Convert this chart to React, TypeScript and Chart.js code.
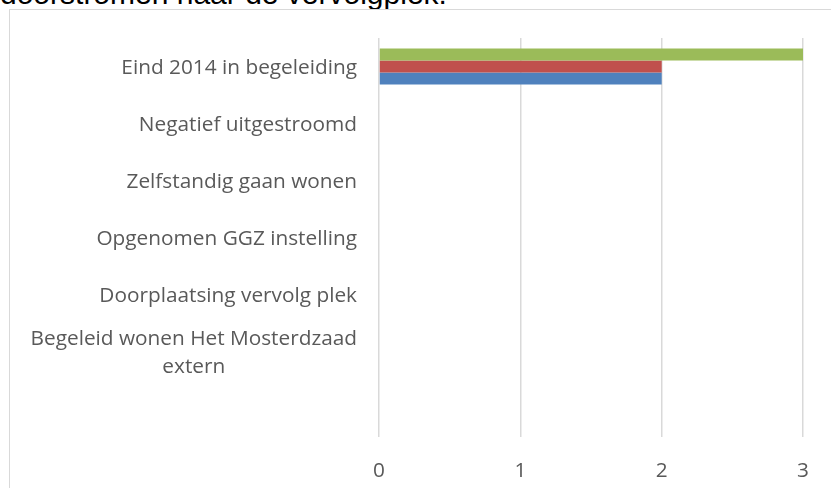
import { useEffect, useRef } from "react";
import { Chart, registerables } from "chart.js";

Chart.register(...registerables);

const categories: (string | string[])[] = [
  "Eind 2014 in begeleiding",
  "Negatief uitgestroomd",
  "Zelfstandig gaan wonen",
  "Opgenomen GGZ instelling",
  "Doorplaatsing vervolg plek",
  ["Begeleid wonen Het Mosterdzaad", "extern"],
  "",
];

const seriesNames = ["Reeks 3", "Reeks 2", "Reeks 1"];
const greenValues = [3, 0, 0, 0, 0, 0, 0];
const redValues = [2, 0, 0, 0, 0, 0, 0];
const blueValues = [2, 0, 0, 0, 0, 0, 0];
const xTicks = [0, 1, 2, 3];

const titleText = "doorstromen naar de vervolgplek.";

const FONT = '"Open Sans", sans-serif';
const FONT_SIZE = 20.8;
const LINE_H = 28;
const LABEL_COLOR = "#595959";

const yLabelPlugin = {
  id: "yLabelPlugin",
  afterDraw(chart: any) {
    const ctx = chart.ctx;
    const yScale = chart.scales.y;
    ctx.save();
    ctx.font = `${FONT_SIZE}px ${FONT}`;
    ctx.fillStyle = LABEL_COLOR;
    ctx.textBaseline = "middle";
    ctx.textAlign = "center";
    (chart.data.labels as (string | string[])[]).forEach((lab, i) => {
      const lines = Array.isArray(lab) ? lab : [lab];
      const cy = yScale.getPixelForTick(i) + 1.5;
      const maxW = Math.max(...lines.map((l) => ctx.measureText(l).width));
      const cx = chart.chartArea.left - 22 - maxW / 2;
      lines.forEach((l, j) => {
        ctx.fillText(l, cx, cy + (j - (lines.length - 1) / 2) * LINE_H);
      });
    });
    ctx.restore();
  },
};

export default function App() {
  const canvasRef = useRef<HTMLCanvasElement | null>(null);

  useEffect(() => {
    if (!canvasRef.current) return;
    const chart = new Chart(canvasRef.current, {
      type: "bar",
      data: {
        labels: categories,
        datasets: [
          { label: seriesNames[0], data: greenValues, backgroundColor: "#9BBB59" },
          { label: seriesNames[1], data: redValues, backgroundColor: "#C0504D" },
          { label: seriesNames[2], data: blueValues, backgroundColor: "#4F81BD" },
        ],
      },
      options: {
        indexAxis: "y",
        animation: false,
        responsive: false,
        maintainAspectRatio: false,
        layout: { padding: { top: 38, right: 20, bottom: 0, left: 0 } },
        datasets: {
          bar: { barPercentage: 1, categoryPercentage: 0.632, borderWidth: 0 },
        },
        plugins: {
          legend: { display: false },
          tooltip: { enabled: false },
          title: { display: false },
        },
        scales: {
          x: {
            type: "linear",
            min: xTicks[0],
            max: xTicks[xTicks.length - 1],
            afterBuildTicks: (scale: any) => {
              scale.ticks = xTicks.map((v) => ({ value: v }));
            },
            afterFit: (scale: any) => {
              scale.height = 51;
            },
            grid: { color: "#d9d9d9", lineWidth: 1.5, drawTicks: false },
            border: { display: false },
            ticks: {
              color: LABEL_COLOR,
              font: { family: FONT, size: FONT_SIZE },
              padding: 22,
              maxRotation: 0,
            },
          },
          y: {
            type: "category",
            afterFit: (scale: any) => {
              scale.width = 379;
            },
            grid: { display: false },
            border: { display: false },
            ticks: { display: false },
          },
        },
      },
      plugins: [yLabelPlugin],
    });
    return () => chart.destroy();
  }, []);

  return (
    <div
      style={{
        position: "fixed",
        left: 0,
        top: 0,
        width: 831,
        height: 488,
        overflow: "hidden",
        background: "#ffffff",
      }}
    >
      <div
        style={{
          position: "absolute",
          left: 0,
          top: -21,
          fontFamily: '"Liberation Sans", Arial, sans-serif',
          fontSize: 30,
          lineHeight: 1,
          color: "#000000",
          whiteSpace: "nowrap",
        }}
      >
        {titleText}
      </div>
      <div
        style={{
          position: "absolute",
          left: 9,
          top: 9,
          width: 900,
          height: 600,
          border: "1px solid #d9d9d9",
          boxSizing: "border-box",
        }}
      />
      <canvas
        ref={canvasRef}
        width={831}
        height={488}
        style={{ position: "absolute", left: 0, top: 0, width: 831, height: 488 }}
      />
    </div>
  );
}
